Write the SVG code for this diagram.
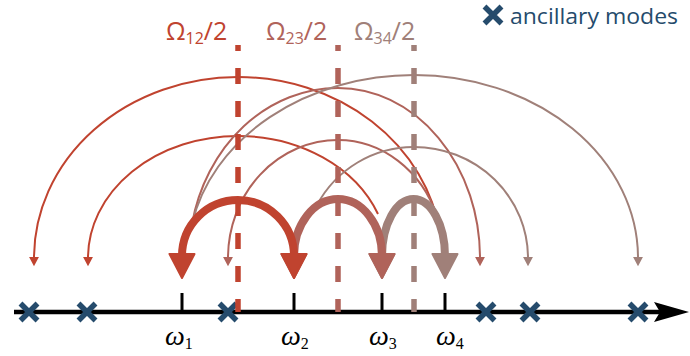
<svg xmlns="http://www.w3.org/2000/svg" width="690" height="356" viewBox="0 0 690 356">
<style>
.thin{fill:none;stroke-width:2}
.thick{fill:none;stroke-width:8}
.c1{stroke:#C0432F}
.c2{stroke:#B0635A}
.c3{stroke:#A08079}
.dash{stroke-width:5.5;stroke-dasharray:16 17;stroke-dashoffset:10}
.xm{stroke:#254B6C;stroke-width:5.5;fill:none}
.tick{stroke:#000;stroke-width:3}
.lab{font-family:"Open Sans","Liberation Sans",sans-serif;font-size:25px}
.leg{font-family:"Open Sans","Liberation Sans",sans-serif;font-size:21px}
.w{font-family:"Liberation Serif",serif;font-size:28px;font-style:italic;fill:#000}
.sub{font-size:16px;font-style:normal}
</style>
<defs>
<marker id="a1" markerUnits="userSpaceOnUse" markerWidth="12" markerHeight="12" viewBox="-2 -5 11 10" refX="0" refY="0" orient="auto"><path d="M -1 -4.5 L 7.5 0 L -1 4.5 z" fill="#C0432F"/></marker>
<marker id="a2" markerUnits="userSpaceOnUse" markerWidth="12" markerHeight="12" viewBox="-2 -5 11 10" refX="0" refY="0" orient="auto"><path d="M -1 -4.5 L 7.5 0 L -1 4.5 z" fill="#B0635A"/></marker>
<marker id="a3" markerUnits="userSpaceOnUse" markerWidth="12" markerHeight="12" viewBox="-2 -5 11 10" refX="0" refY="0" orient="auto"><path d="M -1 -4.5 L 7.5 0 L -1 4.5 z" fill="#A08079"/></marker>
<marker id="A1" markerUnits="userSpaceOnUse" markerWidth="30" markerHeight="32" viewBox="-4 -16 30 32" refX="0" refY="0" orient="auto-start-reverse"><path d="M -2 -12.5 L 22 0 L -2 12.5 z" fill="#C0432F" stroke="#C0432F" stroke-width="2" stroke-linejoin="round"/></marker>
<marker id="A2" markerUnits="userSpaceOnUse" markerWidth="30" markerHeight="32" viewBox="-4 -16 30 32" refX="0" refY="0" orient="auto-start-reverse"><path d="M -2 -12.5 L 22 0 L -2 12.5 z" fill="#B0635A" stroke="#B0635A" stroke-width="2" stroke-linejoin="round"/></marker>
<marker id="A3" markerUnits="userSpaceOnUse" markerWidth="30" markerHeight="32" viewBox="-4 -16 30 32" refX="0" refY="0" orient="auto-start-reverse"><path d="M -2 -12.5 L 22 0 L -2 12.5 z" fill="#A08079" stroke="#A08079" stroke-width="2" stroke-linejoin="round"/></marker>
<path id="xshape" d="M -8.5 -8.5 L 8.5 8.5 M -8.5 8.5 L 8.5 -8.5"/>
</defs>
<rect width="690" height="356" fill="#fff"/>

<g id="axis">
<line x1="14" y1="312" x2="662" y2="312" stroke="#000" stroke-width="4.5"/>
<path d="M 654 302 L 689 312 L 654 322 L 660 312 z" fill="#000"/>
</g>

<g id="omega1"><line class="tick" x1="182" y1="293" x2="182" y2="312"/><text class="w" x="165" y="345">ω<tspan class="sub" dy="4">1</tspan></text></g>
<g id="omega2"><line class="tick" x1="294" y1="293" x2="294" y2="312"/><text class="w" x="281" y="345">ω<tspan class="sub" dy="4">2</tspan></text></g>
<g id="omega3"><line class="tick" x1="382" y1="293" x2="382" y2="312"/><text class="w" x="369" y="345">ω<tspan class="sub" dy="4">3</tspan></text></g>
<g id="omega4"><line class="tick" x1="445" y1="293" x2="445" y2="312"/><text class="w" x="436" y="345">ω<tspan class="sub" dy="4">4</tspan></text></g>

<g id="ancillary1"><use href="#xshape" class="xm" x="29" y="312"/></g>
<g id="ancillary2"><use href="#xshape" class="xm" x="87" y="312"/></g>
<g id="ancillary3"><use href="#xshape" class="xm" x="228" y="312"/></g>
<g id="ancillary4"><use href="#xshape" class="xm" x="486" y="312"/></g>
<g id="ancillary5"><use href="#xshape" class="xm" x="530" y="312"/></g>
<g id="ancillary6"><use href="#xshape" class="xm" x="638" y="312"/></g>

<g id="connectors">
<path class="thin c1" d="M 440 233 A 204 181 0 0 0 238 77 A 204 181 0 0 0 34 258" marker-end="url(#a1)"/>
<path class="thin c1" d="M 378 214 A 150 122 0 0 0 238 136 A 150 122 0 0 0 88 258" marker-end="url(#a1)"/>
<path class="thin c2" d="M 192 224 A 149 170 0 0 1 338 88 A 142 170 0 0 1 480 258" marker-end="url(#a2)"/>
<path class="thin c2" d="M 437 216 A 106 118 0 0 0 338 140 A 110 118 0 0 0 228 258" marker-end="url(#a2)"/>
<path class="thin c3" d="M 192 224 A 226 183 0 0 1 414 75 A 224 183 0 0 1 638 258" marker-end="url(#a3)"/>
<path class="thin c3" d="M 317 205 A 110 111 0 0 1 414 147 A 114 111 0 0 1 528 258" marker-end="url(#a3)"/>
<path class="thick c3" d="M 382 256 A 31.5 57 0 0 1 445 256" marker-start="url(#A3)" marker-end="url(#A3)"/>
<path class="thick c2" d="M 294 256 A 44 57 0 0 1 382 256" marker-start="url(#A2)" marker-end="url(#A2)"/>
<path class="thick c1" d="M 182 256 A 56 56 0 0 1 294 256" marker-start="url(#A1)" marker-end="url(#A1)"/>
</g>

<g id="half-omega12">
<line class="dash c1" x1="238" y1="45" x2="238" y2="312"/>
<text class="lab" x="166" y="40" fill="#C0432F">Ω<tspan class="sub" dy="4">12</tspan><tspan dy="-4">/2</tspan></text>
</g>
<g id="half-omega23">
<line class="dash c2" x1="338" y1="45" x2="338" y2="312"/>
<text class="lab" x="266" y="40" fill="#B0635A">Ω<tspan class="sub" dy="4">23</tspan><tspan dy="-4">/2</tspan></text>
</g>
<g id="half-omega34">
<line class="dash c3" x1="414" y1="45" x2="414" y2="312"/>
<text class="lab" x="354" y="40" fill="#A08079">Ω<tspan class="sub" dy="4">34</tspan><tspan dy="-4">/2</tspan></text>
</g>

<g id="legend">
<use href="#xshape" class="xm" x="493" y="15"/>
<text class="leg" x="510" y="24" textLength="168" lengthAdjust="spacingAndGlyphs" fill="#254B6C">ancillary modes</text>
</g>
</svg>
